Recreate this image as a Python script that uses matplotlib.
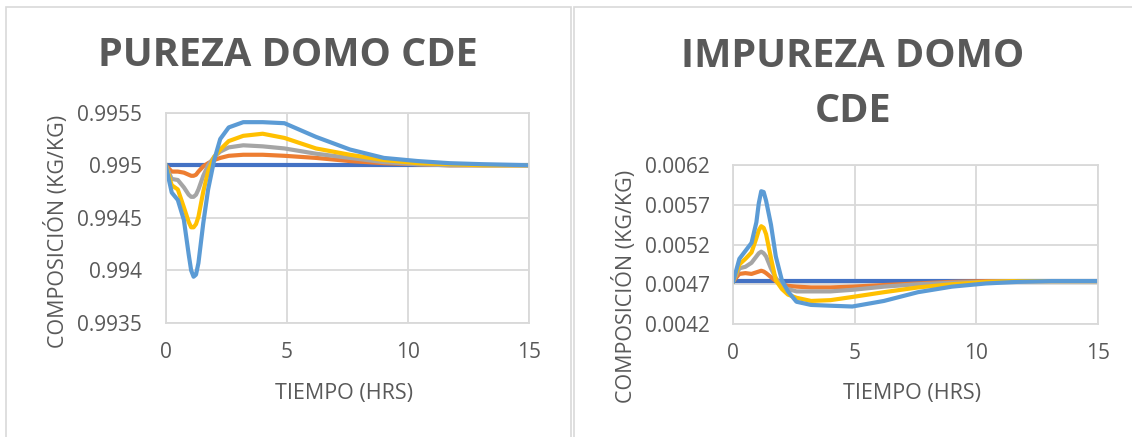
import numpy as np
import matplotlib
matplotlib.use("Agg")
import matplotlib.pyplot as plt
from matplotlib.patches import Rectangle
from matplotlib.ticker import FuncFormatter

# tiempo (hrs)
tiempo = [0, 0.25, 0.5, 0.75, 0.95, 1.05, 1.15, 1.25, 1.35, 1.55, 1.75, 2.0, 2.25, 2.6,
          3.2, 4.0, 4.9, 6.2, 7.6, 9.0, 10.4, 11.7, 13.1, 15]

# pureza domo CDE (kg/kg)
pur_base = [0.99500] * 24
pur_s1 = [0.99500, 0.99494, 0.99494, 0.99493, 0.99491, 0.99490, 0.99490, 0.99491,
          0.99494, 0.99499, 0.99502, 0.99505, 0.99507, 0.99509, 0.99510, 0.99510,
          0.99509, 0.99507, 0.99504, 0.99502, 0.99501, 0.99500, 0.99500, 0.99500]
pur_s2 = [0.99500, 0.99487, 0.99486, 0.99479, 0.99472, 0.99470, 0.99470, 0.99472,
          0.99477, 0.99490, 0.99500, 0.99508, 0.99513, 0.99517, 0.99519, 0.99518,
          0.99516, 0.99511, 0.99507, 0.99503, 0.99501, 0.99500, 0.99500, 0.99500]
pur_s3 = [0.99500, 0.99481, 0.99477, 0.99460, 0.99446, 0.99441, 0.99441, 0.99444,
          0.99451, 0.99475, 0.99494, 0.99508, 0.99515, 0.99523, 0.99528, 0.99530,
          0.99526, 0.99516, 0.99510, 0.99505, 0.99502, 0.99501, 0.99500, 0.99500]
pur_s4 = [0.99500, 0.99474, 0.99467, 0.99448, 0.99415, 0.99400, 0.99394, 0.99396,
          0.99407, 0.99445, 0.99477, 0.99505, 0.99525, 0.99536, 0.99541, 0.99541,
          0.99540, 0.99527, 0.99515, 0.99507, 0.99504, 0.99502, 0.99501, 0.99500]

# impureza domo CDE (kg/kg)
imp_base = [0.00474] * 24
imp_s1 = [0.00474, 0.00483, 0.00484, 0.00483, 0.00485, 0.00486, 0.00487, 0.00486,
          0.00484, 0.00479, 0.00474, 0.00470, 0.00468, 0.00467, 0.00466, 0.00466,
          0.00467, 0.00469, 0.00471, 0.00473, 0.00474, 0.00474, 0.00474, 0.00474]
imp_s2 = [0.00474, 0.00490, 0.00492, 0.00497, 0.00505, 0.00509, 0.00511, 0.00509,
          0.00505, 0.00490, 0.00478, 0.00468, 0.00464, 0.00461, 0.00461, 0.00461,
          0.00463, 0.00467, 0.00470, 0.00472, 0.00473, 0.00474, 0.00474, 0.00474]
imp_s3 = [0.00474, 0.00495, 0.00502, 0.00510, 0.00528, 0.00538, 0.00543, 0.00541,
          0.00533, 0.00503, 0.00475, 0.00464, 0.00457, 0.00453, 0.00449, 0.00450,
          0.00454, 0.00460, 0.00466, 0.00470, 0.00473, 0.00474, 0.00474, 0.00474]
imp_s4 = [0.00474, 0.00502, 0.00512, 0.00522, 0.00548, 0.00572, 0.00587, 0.00586,
          0.00575, 0.00545, 0.00505, 0.00475, 0.00461, 0.00448, 0.00444, 0.00443,
          0.00442, 0.00449, 0.00460, 0.00467, 0.00471, 0.00473, 0.00474, 0.00474]

pur_ticks = [0.9935, 0.994, 0.9945, 0.995, 0.9955]
imp_ticks = [0.0042, 0.0047, 0.0052, 0.0057, 0.0062]
x_ticks = [0, 5, 10, 15]

colores = ["#4472C4", "#ED7D31", "#A5A5A5", "#FFC000", "#5B9BD5"]
gris_texto = "#595959"
gris_linea = "#D9D9D9"

plt.rcParams["font.family"] = ["Open Sans", "DejaVu Sans"]

W, H = 1132, 437
fig = plt.figure(figsize=(W / 100, H / 100), dpi=100)


def px_rect(x0, y0, x1, y1):
    # pixeles (desde arriba) -> coordenadas de figura
    return [x0 / W, 1 - y1 / H, (x1 - x0) / W, (y1 - y0) / H]


def general_fmt(v, _):
    # formato "General" de Excel: sin ceros sobrantes
    return "{:.4f}".format(v).rstrip("0").rstrip(".")


# bordes de los gráficos
fig.add_artist(Rectangle((6 / W, -0.05), (571 - 6) / W, 1.05 - 7 / H,
                         transform=fig.transFigure, fill=False,
                         edgecolor=gris_linea, lw=1.2))
fig.add_artist(Rectangle((574 / W, -0.05), 0.6, 1.05 - 7 / H,
                         transform=fig.transFigure, fill=False,
                         edgecolor=gris_linea, lw=1.2))


def dibujar(rect, series, ticks, ylim):
    ax = fig.add_axes(rect)
    for serie, c in zip(series, colores):
        ax.plot(tiempo, serie, color=c, lw=3.0, solid_joinstyle="round")
    ax.set_xlim(0, 15)
    ax.set_ylim(*ylim)
    ax.set_xticks(x_ticks)
    ax.set_yticks(ticks)
    ax.yaxis.set_major_formatter(FuncFormatter(general_fmt))
    ax.grid(True, color=gris_linea, lw=1.3)
    ax.set_axisbelow(True)
    for sp in ax.spines.values():
        sp.set_color(gris_linea)
        sp.set_linewidth(1.3)
    ax.tick_params(length=0, labelsize=15, labelcolor=gris_texto)
    ax.tick_params(axis="y", pad=17)
    ax.tick_params(axis="x", pad=14)
    ax.set_xlabel("TIEMPO (HRS)", fontsize=15.5, color=gris_texto)
    ax.set_ylabel("COMPOSICIÓN (KG/KG)", fontsize=15.5, color=gris_texto)
    ax.xaxis.label.set_va("center")
    ax.yaxis.label.set_va("center")
    return ax


ax1 = dibujar(px_rect(165.7, 112.7, 529.3, 323),
              [pur_base, pur_s1, pur_s2, pur_s3, pur_s4],
              pur_ticks, (0.9935, 0.9955))
ax1.xaxis.set_label_coords(0.49, -0.333)
ax1.yaxis.set_label_coords(-0.30, 0.437)

ax2 = dibujar(px_rect(733.3, 165, 1097.7, 324),
              [imp_base, imp_s1, imp_s2, imp_s3, imp_s4],
              imp_ticks, (0.0042, 0.0062))
ax2.xaxis.set_label_coords(0.49, -0.434)
ax2.yaxis.set_label_coords(-0.297, 0.239)

fig.text(288 / W, 1 - 55 / H, "PUREZA DOMO CDE", ha="center", va="center",
         fontsize=28.5, fontweight="bold", color=gris_texto)
fig.text(853 / W, 1 - 84 / H, "IMPUREZA DOMO\nCDE", ha="center", va="center",
         fontsize=28.5, fontweight="bold", color=gris_texto, linespacing=1.55)

fig.savefig("out.png", dpi=100)
